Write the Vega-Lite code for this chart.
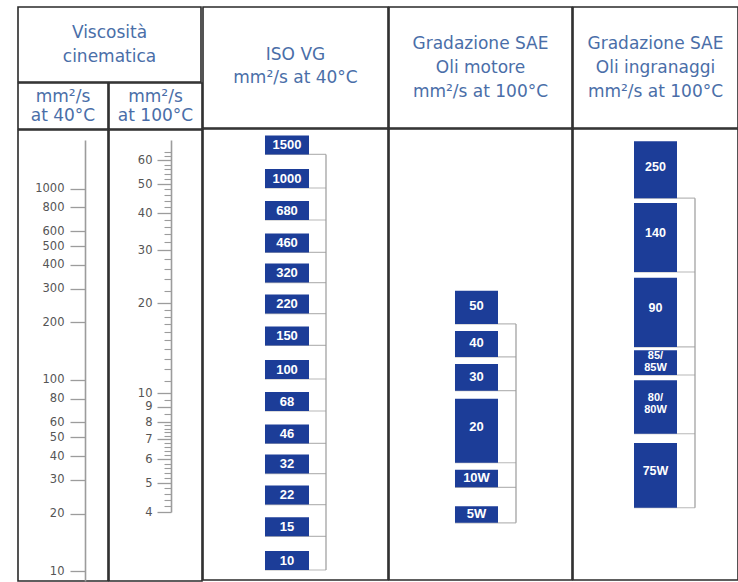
{
  "$schema": "https://vega.github.io/schema/vega-lite/v6.json",
  "padding": {"left": 17, "top": 6, "right": 0, "bottom": 0},
  "background": "white",
  "config": {
    "view": {"stroke": "#2a2a2a", "strokeWidth": 1.6},
    "axis": {"grid": false}
  },
  "spacing": -1.6,
  "resolve": {"scale": {"x": "independent", "y": "independent"}},
  "hconcat": [
    {
      "spacing": -1.6,
      "vconcat": [
        {
          "width": 183, "height": 75,
          "data": {"values": [{"testo": "Viscosità\ncinematica"}]},
          "mark": {"type": "text", "lineBreak": "\n", "lineHeight": 24, "fontSize": 17, "color": "#4a6ea8", "font": "DejaVu Sans", "baseline": "middle", "dy": -12},
          "encoding": {"x": {"field": "testo", "type": "nominal", "axis": null}, "text": {"field": "testo", "type": "nominal"}}
        },
        {
          "spacing": -1.6,
          "hconcat": [
            {
              "spacing": -1.6,
              "vconcat": [
                {
                  "width": 90, "height": 46,
                  "data": {"values": [{"testo": "mm²/s\nat 40°C"}]},
                  "mark": {"type": "text", "lineBreak": "\n", "lineHeight": 19, "fontSize": 17, "color": "#4a6ea8", "font": "DejaVu Sans", "baseline": "middle", "dy": -9.5},
                  "encoding": {"x": {"field": "testo", "type": "nominal", "axis": null}, "text": {"field": "testo", "type": "nominal"}}
                },
                {
                  "width": 90, "height": 451,
                  "data": {"values": [{"scala": "40°C", "v": 10}, {"scala": "40°C", "v": 20}, {"scala": "40°C", "v": 30}, {"scala": "40°C", "v": 40}, {"scala": "40°C", "v": 50}, {"scala": "40°C", "v": 60}, {"scala": "40°C", "v": 80}, {"scala": "40°C", "v": 100}, {"scala": "40°C", "v": 200}, {"scala": "40°C", "v": 300}, {"scala": "40°C", "v": 400}, {"scala": "40°C", "v": 500}, {"scala": "40°C", "v": 600}, {"scala": "40°C", "v": 800}, {"scala": "40°C", "v": 1000}]},
                  "mark": {"type": "point", "opacity": 0},
                  "encoding": {
                    "x": {"field": "scala", "type": "nominal", "axis": null},
                    "y": {
                      "field": "v", "type": "quantitative",
                      "scale": {"type": "log", "domain": [8.865, 1805], "rangeMin": 451, "rangeMax": 10, "nice": false},
                      "axis": {
                        "orient": "left", "offset": -67,
                        "values": [10, 20, 30, 40, 50, 60, 80, 100, 200, 300, 400, 500, 600, 800, 1000],
                        "format": "d", "tickSize": 15, "tickWidth": 1.3, "tickColor": "#9c9c9c",
                        "domainColor": "#9c9c9c", "domainWidth": 1.6,
                        "labelFont": "DejaVu Sans", "labelFontSize": 11.5, "labelColor": "#555555", "labelPadding": 6,
                        "title": null, "labelOverlap": false, "labelFlush": false, "grid": false
                      }
                    }
                  }
                }
              ]
            },
            {
              "spacing": -1.6,
              "vconcat": [
                {
                  "width": 93, "height": 46,
                  "data": {"values": [{"testo": "mm²/s\nat 100°C"}]},
                  "mark": {"type": "text", "lineBreak": "\n", "lineHeight": 19, "fontSize": 17, "color": "#4a6ea8", "font": "DejaVu Sans", "baseline": "middle", "dy": -9.5},
                  "encoding": {"x": {"field": "testo", "type": "nominal", "axis": null}, "text": {"field": "testo", "type": "nominal"}}
                },
                {
                  "width": 93, "height": 451,
                  "resolve": {"axis": {"y": "independent"}},
                  "encoding": {"x": {"field": "scala", "type": "nominal", "axis": null}},
                  "layer": [
                    {
                      "data": {"values": [{"scala": "100°C", "v": 4}, {"scala": "100°C", "v": 5}, {"scala": "100°C", "v": 6}, {"scala": "100°C", "v": 7}, {"scala": "100°C", "v": 8}, {"scala": "100°C", "v": 9}, {"scala": "100°C", "v": 10}, {"scala": "100°C", "v": 20}, {"scala": "100°C", "v": 30}, {"scala": "100°C", "v": 40}, {"scala": "100°C", "v": 50}, {"scala": "100°C", "v": 60}]},
                      "mark": {"type": "point", "opacity": 0},
                      "encoding": {
                        "y": {
                          "field": "v", "type": "quantitative",
                          "scale": {"type": "log", "domain": [4, 70.2], "rangeMin": 382, "rangeMax": 10, "nice": false},
                          "axis": {
                            "orient": "left", "offset": -62,
                            "values": [4, 5, 6, 7, 8, 9, 10, 20, 30, 40, 50, 60],
                            "format": "d", "tickSize": 14, "tickWidth": 1.3, "tickColor": "#9c9c9c",
                            "domainColor": "#9c9c9c", "domainWidth": 1.6,
                            "labelFont": "DejaVu Sans", "labelFontSize": 11.5, "labelColor": "#555555", "labelPadding": 5,
                            "title": null, "labelOverlap": false, "labelFlush": false, "grid": false
                          }
                        }
                      }
                    },
                    {
                      "data": {"values": [{"scala": "100°C", "v": 4.2}, {"scala": "100°C", "v": 4.4}, {"scala": "100°C", "v": 4.6}, {"scala": "100°C", "v": 4.8}, {"scala": "100°C", "v": 5.2}, {"scala": "100°C", "v": 5.4}, {"scala": "100°C", "v": 5.6}, {"scala": "100°C", "v": 5.8}, {"scala": "100°C", "v": 6.2}, {"scala": "100°C", "v": 6.4}, {"scala": "100°C", "v": 6.6}, {"scala": "100°C", "v": 6.8}, {"scala": "100°C", "v": 7.2}, {"scala": "100°C", "v": 7.4}, {"scala": "100°C", "v": 7.6}, {"scala": "100°C", "v": 7.8}, {"scala": "100°C", "v": 8.5}, {"scala": "100°C", "v": 9.5}, {"scala": "100°C", "v": 11}, {"scala": "100°C", "v": 12}, {"scala": "100°C", "v": 13}, {"scala": "100°C", "v": 14}, {"scala": "100°C", "v": 15}, {"scala": "100°C", "v": 16}, {"scala": "100°C", "v": 17}, {"scala": "100°C", "v": 18}, {"scala": "100°C", "v": 19}, {"scala": "100°C", "v": 22}, {"scala": "100°C", "v": 24}, {"scala": "100°C", "v": 26}, {"scala": "100°C", "v": 28}, {"scala": "100°C", "v": 32}, {"scala": "100°C", "v": 34}, {"scala": "100°C", "v": 36}, {"scala": "100°C", "v": 38}, {"scala": "100°C", "v": 42}, {"scala": "100°C", "v": 44}, {"scala": "100°C", "v": 46}, {"scala": "100°C", "v": 48}, {"scala": "100°C", "v": 52}, {"scala": "100°C", "v": 54}, {"scala": "100°C", "v": 56}, {"scala": "100°C", "v": 58}, {"scala": "100°C", "v": 62}, {"scala": "100°C", "v": 64}]},
                      "mark": {"type": "point", "opacity": 0},
                      "encoding": {
                        "y": {
                          "field": "v", "type": "quantitative",
                          "axis": {
                            "orient": "left", "offset": -62,
                            "values": [4.2, 4.4, 4.6, 4.8, 5.2, 5.4, 5.6, 5.8, 6.2, 6.4, 6.6, 6.8, 7.2, 7.4, 7.6, 7.8, 8.5, 9.5, 11, 12, 13, 14, 15, 16, 17, 18, 19, 22, 24, 26, 28, 32, 34, 36, 38, 42, 44, 46, 48, 52, 54, 56, 58, 62, 64],
                            "tickSize": 7, "tickWidth": 1.1, "tickColor": "#9c9c9c",
                            "labels": false, "domain": false, "title": null, "grid": false
                          }
                        }
                      }
                    }
                  ]
                }
              ]
            }
          ]
        }
      ]
    },
    {
      "spacing": -1.6,
      "vconcat": [
        {
          "width": 185, "height": 121,
          "data": {"values": [{"testo": "ISO VG\nmm²/s at 40°C"}]},
          "mark": {"type": "text", "lineBreak": "\n", "lineHeight": 23, "fontSize": 17, "color": "#4a6ea8", "font": "DejaVu Sans", "baseline": "middle", "dy": -13},
          "encoding": {"x": {"field": "testo", "type": "nominal", "axis": null}, "text": {"field": "testo", "type": "nominal"}}
        },
        {
          "width": 185, "height": 451,
          "data": {"values": [
            {"sistema": "ISO VG", "vg": 1500}, {"sistema": "ISO VG", "vg": 1000}, {"sistema": "ISO VG", "vg": 680},
            {"sistema": "ISO VG", "vg": 460}, {"sistema": "ISO VG", "vg": 320}, {"sistema": "ISO VG", "vg": 220},
            {"sistema": "ISO VG", "vg": 150}, {"sistema": "ISO VG", "vg": 100}, {"sistema": "ISO VG", "vg": 68},
            {"sistema": "ISO VG", "vg": 46}, {"sistema": "ISO VG", "vg": 32}, {"sistema": "ISO VG", "vg": 22},
            {"sistema": "ISO VG", "vg": 15}, {"sistema": "ISO VG", "vg": 10}
          ]},
          "encoding": {
            "x": {"field": "sistema", "type": "nominal", "scale": {"type": "band", "paddingInner": 0.3759, "paddingOuter": 1, "align": 0.4397}, "axis": null},
            "y": {"field": "vg", "type": "quantitative", "scale": {"type": "log", "domain": [8.865, 2037], "nice": false}, "axis": null}
          },
          "layer": [
            {"mark": {"type": "tick", "orient": "horizontal", "color": "#9a9a9a", "thickness": 1.2, "size": 61, "xOffset": 8.5}},
            {
              "mark": {"type": "rule", "color": "#9a9a9a", "strokeWidth": 1.2, "xOffset": 39},
              "encoding": {
                "y": {"aggregate": "min", "field": "vg", "type": "quantitative", "scale": {"type": "log", "domain": [8.865, 2037], "nice": false}, "axis": null},
                "y2": {"aggregate": "max", "field": "vg"}
              }
            },
            {"mark": {"type": "rect", "color": "#1c3d98", "y2Offset": -19}, "encoding": {"y2": {"field": "vg"}}},
            {
              "mark": {"type": "text", "color": "white", "font": "Liberation Sans", "fontWeight": "bold", "fontSize": 13, "dy": -9.5, "baseline": "middle"},
              "encoding": {"text": {"field": "vg", "type": "quantitative", "format": "d"}}
            }
          ]
        }
      ]
    },
    {
      "spacing": -1.6,
      "vconcat": [
        {
          "width": 183, "height": 121,
          "data": {"values": [{"testo": "Gradazione SAE\nOli motore\nmm²/s at 100°C"}]},
          "mark": {"type": "text", "lineBreak": "\n", "lineHeight": 24, "fontSize": 17, "color": "#4a6ea8", "font": "DejaVu Sans", "baseline": "middle", "dy": -24},
          "encoding": {"x": {"field": "testo", "type": "nominal", "axis": null}, "text": {"field": "testo", "type": "nominal"}}
        },
        {
          "width": 183, "height": 451,
          "data": {"values": [
            {"sistema": "SAE motore", "grado": "50", "lo": 16.9, "hi": 21.8},
            {"sistema": "SAE motore", "grado": "40", "lo": 13.1, "hi": 16.0},
            {"sistema": "SAE motore", "grado": "30", "lo": 10.1, "hi": 12.4},
            {"sistema": "SAE motore", "grado": "20", "lo": 5.8, "hi": 9.5},
            {"sistema": "SAE motore", "grado": "10W", "lo": 4.8, "hi": 5.5},
            {"sistema": "SAE motore", "grado": "5W", "lo": 3.65, "hi": 4.15}
          ]},
          "encoding": {
            "x": {"field": "sistema", "type": "nominal", "scale": {"type": "band", "paddingInner": 0.3857, "paddingOuter": 1, "align": 0.4714}, "axis": null},
            "y": {"field": "lo", "type": "quantitative", "scale": {"type": "log", "domain": [2.3506, 75.81], "nice": false}, "axis": null}
          },
          "layer": [
            {"mark": {"type": "tick", "orient": "horizontal", "color": "#9a9a9a", "thickness": 1.2, "size": 61, "xOffset": 9}},
            {
              "mark": {"type": "rule", "color": "#9a9a9a", "strokeWidth": 1.2, "xOffset": 39.5},
              "encoding": {
                "y": {"aggregate": "min", "field": "lo", "type": "quantitative", "scale": {"type": "log", "domain": [2.3506, 75.81], "nice": false}, "axis": null},
                "y2": {"aggregate": "max", "field": "lo"}
              }
            },
            {"mark": {"type": "rect", "color": "#1c3d98"}, "encoding": {"y2": {"field": "hi"}}},
            {
              "transform": [{"fold": ["lo", "hi"], "as": ["estremo", "visc"]}],
              "mark": {"type": "text", "color": "white", "font": "Liberation Sans", "fontWeight": "bold", "fontSize": 13, "baseline": "middle"},
              "encoding": {
                "y": {"aggregate": "mean", "field": "visc", "type": "quantitative", "scale": {"type": "log", "domain": [2.3506, 75.81], "nice": false}, "axis": null},
                "text": {"field": "grado", "type": "nominal"}
              }
            }
          ]
        }
      ]
    },
    {
      "spacing": -1.6,
      "vconcat": [
        {
          "width": 165, "height": 121,
          "data": {"values": [{"testo": "Gradazione SAE\nOli ingranaggi\nmm²/s at 100°C"}]},
          "mark": {"type": "text", "lineBreak": "\n", "lineHeight": 24, "fontSize": 17, "color": "#4a6ea8", "font": "DejaVu Sans", "baseline": "middle", "dy": -24},
          "encoding": {"x": {"field": "testo", "type": "nominal", "axis": null}, "text": {"field": "testo", "type": "nominal"}}
        },
        {
          "width": 165, "height": 451,
          "data": {"values": [
            {"sistema": "SAE ingranaggi", "grado": "250", "lo": 44.5, "hi": 69},
            {"sistema": "SAE ingranaggi", "grado": "140", "lo": 25.2, "hi": 42.9},
            {"sistema": "SAE ingranaggi", "grado": "90", "lo": 14.15, "hi": 24.1},
            {"sistema": "SAE ingranaggi", "grado": "85/\n85W", "lo": 11.4, "hi": 13.8},
            {"sistema": "SAE ingranaggi", "grado": "80/\n80W", "lo": 7.25, "hi": 10.95},
            {"sistema": "SAE ingranaggi", "grado": "75W", "lo": 4.1, "hi": 6.75}
          ]},
          "encoding": {
            "x": {"field": "sistema", "type": "nominal", "scale": {"type": "band", "paddingInner": 0.2951, "paddingOuter": 1, "align": 0.5}, "axis": null},
            "y": {"field": "lo", "type": "quantitative", "scale": {"type": "log", "domain": [2.3506, 75.81], "nice": false}, "axis": null}
          },
          "layer": [
            {"mark": {"type": "tick", "orient": "horizontal", "color": "#9a9a9a", "thickness": 1.2, "size": 61, "xOffset": 9}},
            {
              "mark": {"type": "rule", "color": "#9a9a9a", "strokeWidth": 1.2, "xOffset": 39.5},
              "encoding": {
                "y": {"aggregate": "min", "field": "lo", "type": "quantitative", "scale": {"type": "log", "domain": [2.3506, 75.81], "nice": false}, "axis": null},
                "y2": {"aggregate": "max", "field": "lo"}
              }
            },
            {"mark": {"type": "rect", "color": "#1c3d98"}, "encoding": {"y2": {"field": "hi"}}},
            {
              "transform": [{"filter": {"not": {"field": "grado", "oneOf": ["85/\n85W", "80/\n80W"]}}}, {"fold": ["lo", "hi"], "as": ["estremo", "visc"]}],
              "mark": {"type": "text", "color": "white", "font": "Liberation Sans", "fontWeight": "bold", "fontSize": 12.5, "baseline": "middle"},
              "encoding": {
                "y": {"aggregate": "mean", "field": "visc", "type": "quantitative", "scale": {"type": "log", "domain": [2.3506, 75.81], "nice": false}, "axis": null},
                "text": {"field": "grado", "type": "nominal"}
              }
            },
            {
              "transform": [{"filter": {"field": "grado", "oneOf": ["85/\n85W", "80/\n80W"]}}, {"fold": ["lo", "hi"], "as": ["estremo", "visc"]}],
              "mark": {"type": "text", "color": "white", "font": "Liberation Sans", "fontWeight": "bold", "fontSize": 11, "baseline": "middle", "lineBreak": "\n", "lineHeight": 12, "dy": -6},
              "encoding": {
                "y": {"aggregate": "mean", "field": "visc", "type": "quantitative", "scale": {"type": "log", "domain": [2.3506, 75.81], "nice": false}, "axis": null},
                "text": {"field": "grado", "type": "nominal"}
              }
            }
          ]
        }
      ]
    }
  ]
}
